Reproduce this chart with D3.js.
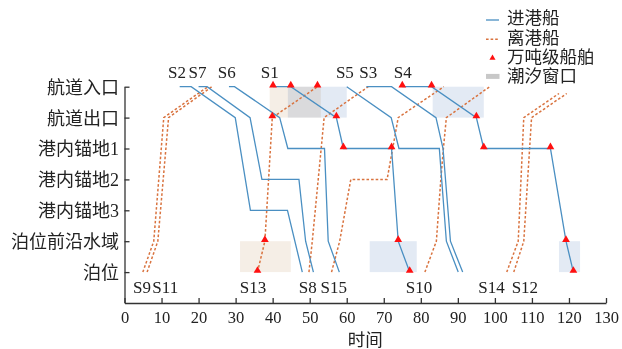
<!DOCTYPE html>
<html><head><meta charset="utf-8">
<script src="https://cdn.jsdelivr.net/npm/d3@7"></script>
<style>
body{margin:0;background:#fff;}
svg{display:block;}
text{font-family:"Liberation Serif","Noto Sans CJK SC",serif;fill:#222;}
</style></head><body>
<svg id="chart" width="622" height="349"></svg>
<script>
// ---- data ----
const levelNames = ["泊位","泊位前沿水域","港内锚地3","港内锚地2","港内锚地1","航道出口","航道入口"]; // level 1..7
const levelValues = [1,2,3,4,5,6,7];
const xTickValues = d3.range(0, 131, 10);
const xTitle = "时间";

const inboundShips = [
  {name:"S2", labelT:14.2, big:false, pts:[[14.9,7],[18.0,7],[29.9,6],[34.0,3],[44.0,3],[48.0,1]]},
  {name:"S7", labelT:19.7, big:false, pts:[[20.0,7],[22.3,7],[33.9,6],[37.1,4],[47.1,4],[48.9,2],[51.0,1]]},
  {name:"S6", labelT:27.6, big:false, pts:[[28.2,7],[29.7,7],[41.9,6],[44.1,5],[54.0,5],[55.0,2],[58.0,1]]},
  {name:"S1", labelT:39.2, big:true,  pts:[[40.1,7],[44.9,7],[57.2,6],[59.1,5],[72.1,5],[73.9,2],[77.0,1]]},
  {name:"S5", labelT:59.5, big:false, pts:[[60.0,7],[72.0,6],[74.1,5],[85.0,5],[86.9,2],[90.1,1]]},
  {name:"S3", labelT:65.8, big:false, pts:[[65.3,7],[72.1,7],[84.1,6],[86.0,5],[88.0,2],[91.3,1]]},
  {name:"S4", labelT:75.1, big:true,  pts:[[75.0,7],[82.9,7],[95.0,6],[97.0,5],[115.0,5],[119.2,2],[121.2,1]]}
];

const outboundShips = [
  {name:"S9",  labelT:4.7,   big:false, pts:[[4.95,1],[7.9,2],[10.6,6],[22.5,7]]},
  {name:"S11", labelT:11.0,  big:false, pts:[[6.1,1],[9.0,2],[11.9,6],[23.6,7]]},
  {name:"S13", labelT:34.7,  big:true,  pts:[[35.9,1],[37.9,2],[39.9,6],[52.1,7]]},
  {name:"S8",  labelT:49.5,  big:false, pts:[[49.8,1],[50.7,2],[53.9,6],[65.8,7]]},
  {name:"S15", labelT:56.5,  big:false, pts:[[55.9,1],[58.1,2],[61.1,4],[70.9,4],[73.9,6],[86.2,7]]},
  {name:"S10", labelT:79.5,  big:false, pts:[[81.1,1],[84.2,2],[84.8,3],[85.4,4],[86.1,5],[86.9,6],[98.6,7]]},
  {name:"S14", labelT:99.1,  big:false, pts:[[103.2,1],[106.3,2],[107.8,6],[117.3,6.78]]},
  {name:"S12", labelT:108.1, big:false, pts:[[105.1,1],[107.8,2],[109.9,6],[119.4,6.78]]}
];

const tideWindows = [
  {kind:"out", from:39.2, to:53.0, lo:6, hi:7},
  {kind:"in",  from:44.1, to:60.0, lo:6, hi:7},
  {kind:"in",  from:83.2, to:97.0, lo:6, hi:7},
  {kind:"out", from:31.2, to:44.9, lo:1, hi:2},
  {kind:"in",  from:66.2, to:78.9, lo:1, hi:2},
  {kind:"in",  from:117.3, to:123.0, lo:1, hi:2}
];

const legendLabels = ["进港船","离港船","万吨级船舶","潮汐窗口"];

// ---- styles ----
const C = {in:"#4a8fc2", out:"#d9733f", tri:"#ff1010", winIn:"#e3eaf4", winOut:"#f5eee6", axis:"#333"};

const svg = d3.select("#chart");
const x = d3.scaleLinear().domain([0,130]).range([124.5,606]);
const y = d3.scaleLinear().domain([0,7]).range([303,86.7]);

// tide windows (multiply so overlaps turn grey)
svg.append("g").selectAll("rect").data(tideWindows).join("rect")
  .attr("x", d => x(d.from)).attr("width", d => x(d.to)-x(d.from))
  .attr("y", d => y(d.hi)).attr("height", d => y(d.lo)-y(d.hi))
  .attr("fill", d => d.kind==="in" ? C.winIn : C.winOut)
  .style("mix-blend-mode","multiply");

// axes
const xAxis = svg.append("g").attr("transform",`translate(0,${y(0)})`)
  .call(d3.axisBottom(x).tickValues(xTickValues).tickSizeInner(-5).tickSizeOuter(0).tickPadding(8));
const yAxis = svg.append("g").attr("transform",`translate(${x(0)},0)`)
  .call(d3.axisLeft(y).tickValues(levelValues).tickFormat(v => levelNames[v-1]).tickSizeInner(-5).tickSizeOuter(0).tickPadding(5.5));
[xAxis,yAxis].forEach(g => {
  g.select(".domain").attr("stroke",C.axis).attr("stroke-width",1.3);
  g.selectAll(".tick line").attr("stroke",C.axis).attr("stroke-width",1.3);
  g.selectAll(".tick text").attr("fill","#222");
});
xAxis.selectAll(".tick text").style("font-size","16.5px");
yAxis.selectAll(".tick text").style("font-size","18px").attr("dy","0.36em");

svg.append("text").attr("x", x(65)).attr("y", 346).attr("text-anchor","middle")
  .style("font-size","17.5px").text(xTitle);

const line = d3.line().x(d => x(d[0])).y(d => y(d[1]));

svg.append("g").selectAll("path").data(outboundShips).join("path")
  .attr("d", d => line(d.pts)).attr("fill","none").attr("stroke",C.out)
  .attr("stroke-width",1.5).attr("stroke-dasharray","2.6,2");

svg.append("g").selectAll("path").data(inboundShips).join("path")
  .attr("d", d => line(d.pts)).attr("fill","none").attr("stroke",C.in)
  .attr("stroke-width",1.3);

// big-ship markers
const tri = d3.symbol().type(d3.symbolTriangle).size(26);
const bigPts = [...inboundShips, ...outboundShips].filter(s => s.big).flatMap(s => s.pts);
svg.append("g").selectAll("path").data(bigPts).join("path")
  .attr("d", tri).attr("transform", d => `translate(${x(d[0])},${y(d[1])-1.5})`)
  .attr("fill", C.tri);

// ship labels
svg.append("g").selectAll("text").data(inboundShips).join("text")
  .attr("x", d => x(d.labelT)).attr("y", 78).attr("text-anchor","middle")
  .style("font-size","17px").text(d => d.name);
svg.append("g").selectAll("text").data(outboundShips).join("text")
  .attr("x", d => x(d.labelT)).attr("y", 293).attr("text-anchor","middle")
  .style("font-size","17px").text(d => d.name);

// legend
const lg = svg.append("g").attr("transform","translate(486,0)");
const rowY = i => 18 + i*19.3;
legendLabels.forEach((t,i) => {
  const yy = rowY(i);
  lg.append("text").attr("x",21).attr("y",yy).attr("dy","0.36em")
    .style("font-size","17.5px").text(t);
});
lg.append("line").attr("x1",0).attr("x2",13).attr("y1",rowY(0)+2).attr("y2",rowY(0)+2)
  .attr("stroke",C.in).attr("stroke-width",1.3);
lg.append("line").attr("x1",0).attr("x2",13).attr("y1",rowY(1)+2).attr("y2",rowY(1)+2)
  .attr("stroke",C.out).attr("stroke-width",1.5).attr("stroke-dasharray","2.6,2");
lg.append("path").attr("d", d3.symbol().type(d3.symbolTriangle).size(16))
  .attr("transform",`translate(6.5,${rowY(2)+1.5})`).attr("fill",C.tri);
lg.append("rect").attr("x",0).attr("width",13.5).attr("y",rowY(3)-2).attr("height",5)
  .attr("fill","#c8c8c8");
</script>
</body></html>
